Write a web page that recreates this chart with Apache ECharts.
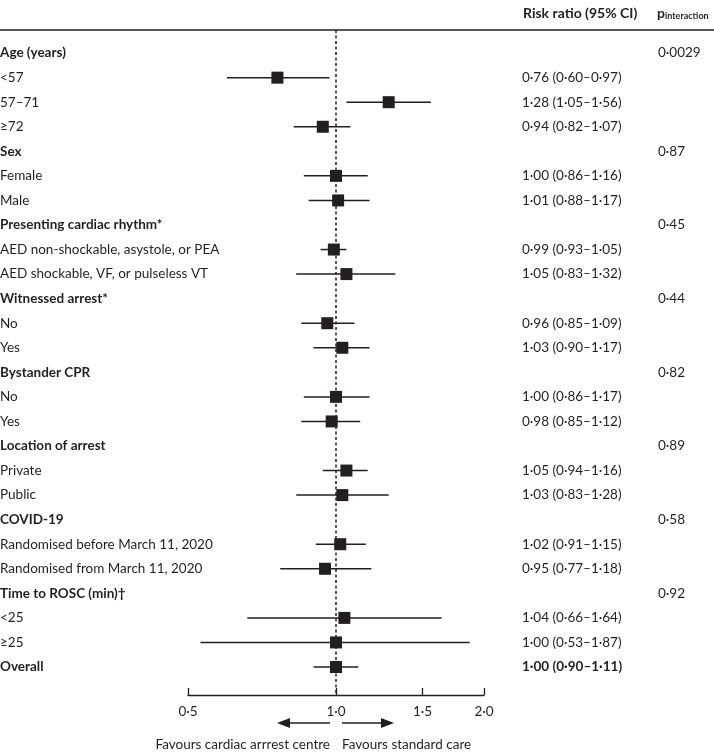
<!DOCTYPE html>
<html>
<head>
<meta charset="utf-8">
<script src="https://cdn.jsdelivr.net/npm/echarts@6/dist/echarts.min.js"></script>
<style>
html,body{margin:0;padding:0;background:#fff;}
#chart{width:714px;height:754px;}
</style>
</head>
<body>
<div id="chart"></div>
<script>
const rowLabels = ['Age (years)', '<57', '57–71', '≥72', 'Sex', 'Female', 'Male',
  'Presenting cardiac rhythm*', 'AED non-shockable, asystole, or PEA', 'AED shockable, VF, or pulseless VT',
  'Witnessed arrest*', 'No', 'Yes', 'Bystander CPR', 'No', 'Yes', 'Location of arrest', 'Private', 'Public',
  'COVID-19', 'Randomised before March 11, 2020', 'Randomised from March 11, 2020',
  'Time to ROSC (min)†', '<25', '≥25', 'Overall'];
const boldRows = [true, false, false, false, true, false, false, true, false, false, true, false, false,
  true, false, false, true, false, false, true, false, false, true, false, false, true];
const riskRatio = [null, 0.76, 1.28, 0.94, null, 1.00, 1.01, null, 0.99, 1.05, null, 0.96, 1.03,
  null, 1.00, 0.98, null, 1.05, 1.03, null, 1.02, 0.95, null, 1.04, 1.00, 1.00];
const ciLow = [null, 0.60, 1.05, 0.82, null, 0.86, 0.88, null, 0.93, 0.83, null, 0.85, 0.90,
  null, 0.86, 0.85, null, 0.94, 0.83, null, 0.91, 0.77, null, 0.66, 0.53, 0.90];
const ciHigh = [null, 0.97, 1.56, 1.07, null, 1.16, 1.17, null, 1.05, 1.32, null, 1.09, 1.17,
  null, 1.17, 1.12, null, 1.16, 1.28, null, 1.15, 1.18, null, 1.64, 1.87, 1.11];
const pInteraction = ['0·0029', '', '', '', '0·87', '', '', '0·45', '', '', '0·44', '', '',
  '0·82', '', '', '0·89', '', '', '0·58', '', '', '0·92', '', '', ''];
const xTicks = [0.5, 1.0, 1.5, 2.0];

const FONT = 'Lato';
const INK = '#231f20';
const FS = 13.5;
const FSB = 13.5;
const fmt = v => v.toFixed(2).replace('.', '·');
const rowIdx = rowLabels.map((_, i) => i);
const lnTicks = xTicks.map(v => Math.log(v));

const ciData = [], ptData = [];
riskRatio.forEach((v, i) => {
  if (v == null) return;
  ciData.push([Math.log(ciLow[i]), Math.log(ciHigh[i]), i]);
  ptData.push([Math.log(v), i]);
});
const rrText = riskRatio.map((v, i) => v == null ? '' : `${fmt(v)} (${fmt(ciLow[i])}–${fmt(ciHigh[i])})`);

const yBase = { type: 'value', inverse: true, min: -0.94, max: 26.14,
  axisLine: { show: false }, axisTick: { show: false }, splitLine: { show: false } };
const boldRich = { b: { fontWeight: 'bold', fontSize: FSB, color: INK, fontFamily: FONT } };

const chart = echarts.init(document.getElementById('chart'));
chart.setOption({
  animation: false,
  textStyle: { fontFamily: FONT },
  grid: { left: 188, right: 230, top: 30, bottom: 59, outerBoundsMode: 'none', containLabel: false },
  xAxis: {
    type: 'value', position: 'bottom', min: Math.log(0.5), max: Math.log(2),
    axisLine: { show: true, onZero: false, lineStyle: { color: INK, width: 1.3 } },
    axisTick: { show: true, inside: true, length: 7, customValues: lnTicks, lineStyle: { color: INK, width: 1.3 } },
    axisLabel: { customValues: lnTicks, margin: 10, color: INK, fontSize: FS, fontFamily: FONT,
      formatter: v => Math.exp(v).toFixed(1).replace('.', '·') },
    splitLine: { show: false }
  },
  yAxis: [
    Object.assign({}, yBase, { position: 'left',
      axisLabel: { customValues: rowIdx, align: 'left', margin: 188, color: INK, fontSize: FS, fontFamily: FONT,
        formatter: v => boldRows[v] ? '{b|' + rowLabels[v] + '}' : rowLabels[v], rich: boldRich } }),
    Object.assign({}, yBase, { position: 'right',
      axisLabel: { customValues: rowIdx, align: 'left', margin: 38, color: INK, fontSize: FS, fontFamily: FONT,
        formatter: v => v === 25 ? '{b|' + rrText[v] + '}' : rrText[v], rich: boldRich } }),
    Object.assign({}, yBase, { position: 'right',
      axisLabel: { customValues: rowIdx, align: 'left', margin: 174, color: INK, fontSize: FS, fontFamily: FONT,
        formatter: v => pInteraction[v] } })
  ],
  series: [
    {
      type: 'custom', yAxisIndex: 0, data: ciData, encode: { x: [0, 1], y: 2 },
      renderItem: (params, api) => {
        const a = api.coord([api.value(0), api.value(2)]);
        const b = api.coord([api.value(1), api.value(2)]);
        return { type: 'line', shape: { x1: a[0], y1: a[1], x2: b[0], y2: b[1] },
          style: { stroke: INK, lineWidth: 1.5 } };
      },
      z: 2
    },
    {
      type: 'scatter', yAxisIndex: 0, data: ptData, symbol: 'rect', symbolSize: 12,
      itemStyle: { color: INK, opacity: 1 }, z: 3,
      markLine: { silent: true, symbol: 'none', label: { show: false },
        lineStyle: { color: INK, type: [3, 2.5], width: 1.5 },
        data: [{ xAxis: 0 }] }
    }
  ],
  graphic: [
    { type: 'line', shape: { x1: 0, y1: 30, x2: 714, y2: 30 }, style: { stroke: INK, lineWidth: 1.5 } },
    { type: 'text', x: 523, y: 13, style: { text: 'Risk ratio (95% CI)', fontFamily: FONT, fontSize: 14, fontWeight: 'bold', fill: INK, verticalAlign: 'middle' } },
    { type: 'text', x: 657, y: 13, style: { text: 'p', fontFamily: FONT, fontSize: 14, fontWeight: 'bold', fill: INK, verticalAlign: 'middle' } },
    { type: 'text', x: 665, y: 16, style: { text: 'interaction', fontFamily: FONT, fontSize: 9, fontWeight: 'bold', fill: INK, verticalAlign: 'middle' } },
    { type: 'line', shape: { x1: 287, y1: 723, x2: 330, y2: 723 }, style: { stroke: INK, lineWidth: 1.5 } },
    { type: 'polygon', shape: { points: [[277, 723], [290, 718], [290, 728]] }, style: { fill: INK } },
    { type: 'line', shape: { x1: 342, y1: 723, x2: 384, y2: 723 }, style: { stroke: INK, lineWidth: 1.5 } },
    { type: 'polygon', shape: { points: [[394, 723], [381, 718], [381, 728]] }, style: { fill: INK } },
    { type: 'text', x: 330, y: 745, style: { text: 'Favours cardiac arrrest centre', fontFamily: FONT, fontSize: FS, fill: INK, align: 'right', verticalAlign: 'middle' } },
    { type: 'text', x: 342, y: 745, style: { text: 'Favours standard care', fontFamily: FONT, fontSize: FS, fill: INK, align: 'left', verticalAlign: 'middle' } }
  ]
});
</script>
</body>
</html>
